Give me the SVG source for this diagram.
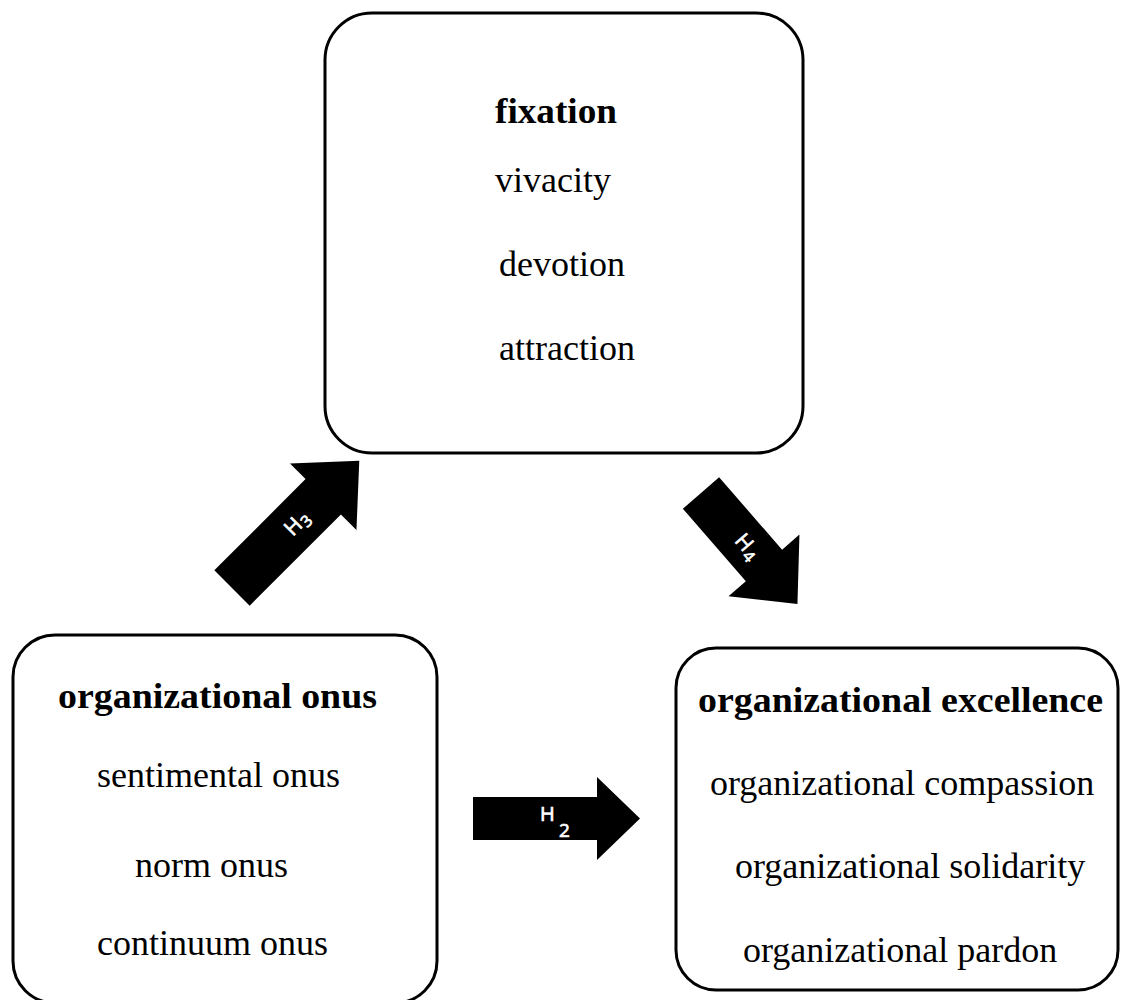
<svg xmlns="http://www.w3.org/2000/svg" width="1121" height="1000" viewBox="0 0 1121 1000">
<style>
.box{fill:#fff;stroke:#000;stroke-width:3}
.t{font-family:"Liberation Serif","Times New Roman",serif;font-size:36px;fill:#000}
.b{font-weight:bold}
.arr{fill:#000;stroke:none}
.lbl{font-family:"Open Sans","Liberation Sans",Arial,sans-serif;fill:#fff;stroke:#fff;stroke-width:0.7}
</style>
<rect width="1121" height="1000" fill="#fff"/>
<g id="fixation">
<rect class="box" x="325" y="13" width="478" height="440" rx="47" ry="47"/>
<text class="t b" x="495" y="123" textLength="122" lengthAdjust="spacingAndGlyphs">fixation</text>
<text class="t" x="495" y="192">vivacity</text>
<text class="t" x="499" y="276">devotion</text>
<text class="t" x="499" y="360">attraction</text>
</g>
<g id="onus">
<rect class="box" x="13" y="635" width="424" height="368" rx="42" ry="42"/>
<text class="t b" x="58" y="708" textLength="319" lengthAdjust="spacingAndGlyphs">organizational onus</text>
<text class="t" x="97" y="787">sentimental onus</text>
<text class="t" x="135" y="877">norm onus</text>
<text class="t" x="97" y="955">continuum onus</text>
</g>
<g id="excellence">
<rect class="box" x="676" y="648" width="442" height="342" rx="40" ry="40"/>
<text class="t b" x="698" y="712" textLength="405" lengthAdjust="spacingAndGlyphs">organizational excellence</text>
<text class="t" x="710" y="795">organizational compassion</text>
<text class="t" x="735" y="878">organizational solidarity</text>
<text class="t" x="743" y="962">organizational pardon</text>
</g>
<g id="connectors">
<g id="h3" transform="translate(232,588) rotate(-45)">
<path class="arr" d="M0,-25 L129,-25 L129,-47 L180,0 L129,47 L129,25 L0,25 Z"/>
<text class="lbl" x="79" y="7" font-size="21">H<tspan dx="1" dy="4" font-size="16">3</tspan></text>
</g>
<g id="h4" transform="translate(701,493) rotate(49)">
<path class="arr" d="M0,-24 L96,-24 L96,-47 L147,0 L96,47 L96,24 L0,24 Z"/>
<text class="lbl" x="58" y="7" font-size="21">H<tspan dx="1" dy="4" font-size="16">4</tspan></text>
</g>
<g id="h2">
<path class="arr" d="M473,797 L597,797 L597,777 L640,818.5 L597,860 L597,840 L473,840 Z"/>
<text class="lbl" x="540" y="821" font-size="20">H</text>
<text class="lbl" x="559" y="837" font-size="19">2</text>
</g>
</g>
</svg>
